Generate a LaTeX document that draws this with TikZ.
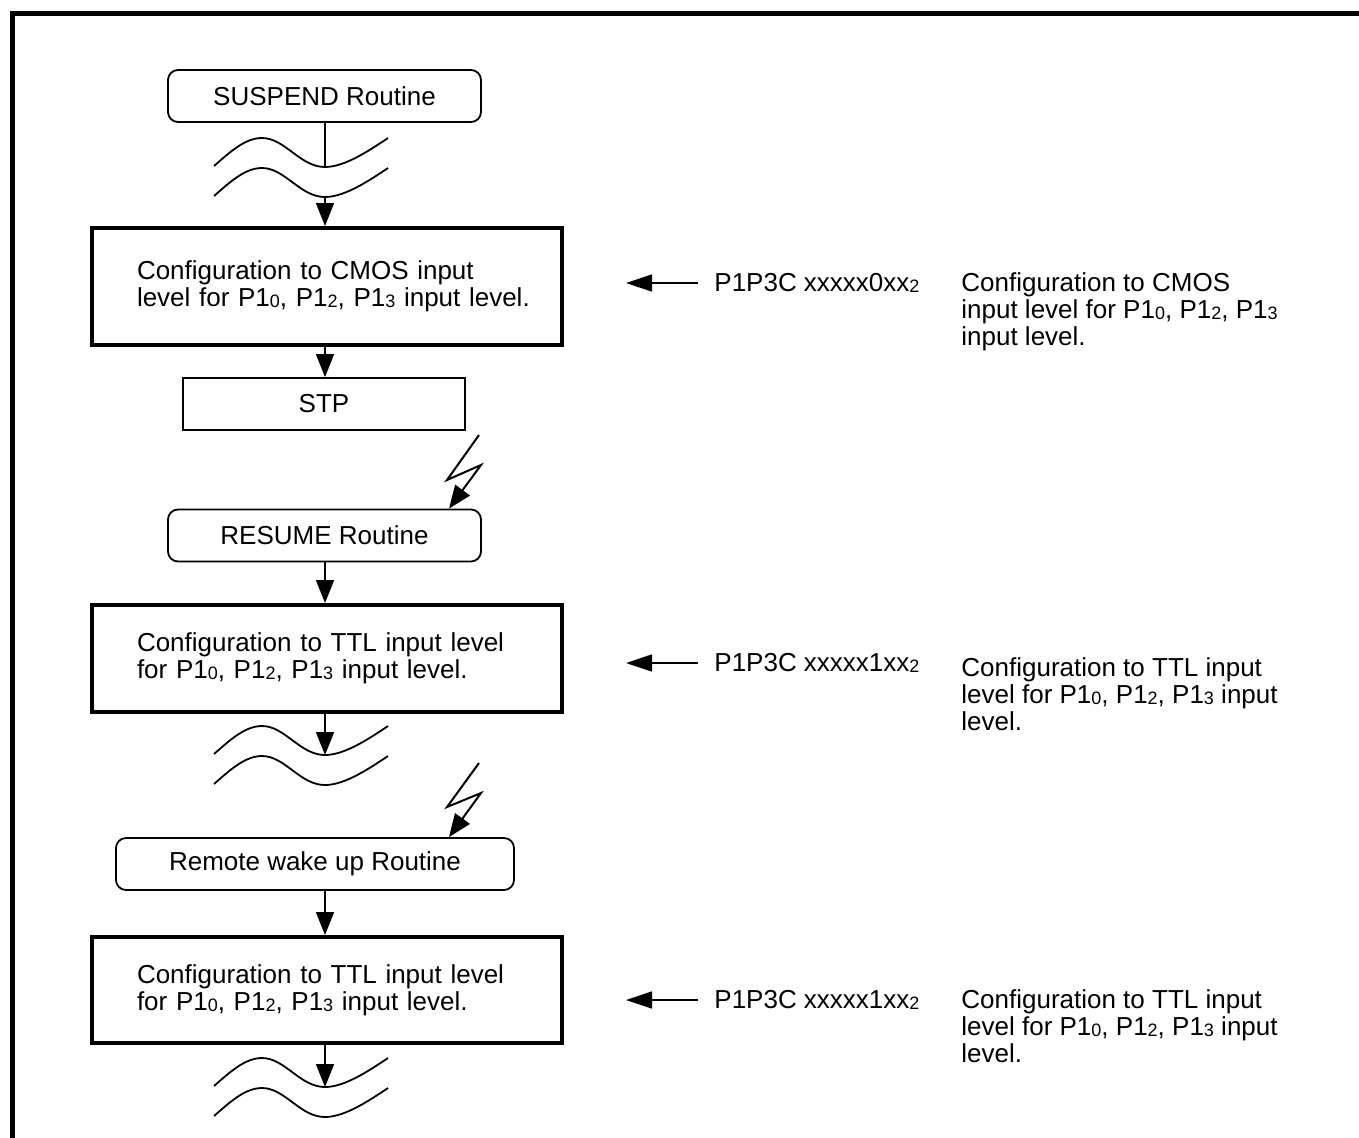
\documentclass[tikz,border=0pt]{standalone}
\usepackage{fontspec}
\setmainfont{Liberation Sans}
\usetikzlibrary{arrows.meta,positioning,calc}
\newcommand{\lsub}[1]{\raisebox{-0.4pt}{\fontsize{9}{9}\selectfont #1}}
\tikzset{
  rbox/.style={rectangle, rounded corners=5pt, draw, line width=0.9pt,
    font=\fontsize{13}{13.5}\selectfont, minimum height=26pt, inner sep=0pt},
  sbox/.style={rectangle, draw, line width=0.9pt,
    font=\fontsize{13}{13.5}\selectfont, minimum height=26pt, inner sep=0pt},
  cbox/.style={rectangle, draw, line width=2pt, minimum width=235pt,
    font=\fontsize{13}{13.5}\selectfont, align=left, text width=190pt,
    inner xsep=22.5pt, inner ysep=0pt},
  note/.style={font=\fontsize{13}{13.5}\selectfont, align=left, inner sep=0pt},
  farrow/.style={-{Triangle[length=11.5pt,width=9pt]}, line width=0.8pt},
  larrow/.style={-{Triangle[length=13pt,width=8.5pt]}, line width=0.8pt},
  bolt/.style={-{Triangle[length=11.5pt,width=9pt]}, line width=1pt, line join=miter},
  brk/.pic={
    \draw[line width=0.9pt] (-111,-1) .. controls (-95,-15) and (-80,-29) .. (-63,-29)
      .. controls (-40,-29) and (-25,0) .. (0,0)
      .. controls (20,0) and (45,-17) .. (63,-29);
    \draw[line width=0.9pt] (-111,29) .. controls (-95,15) and (-80,1) .. (-63,1)
      .. controls (-40,1) and (-25,30) .. (0,30)
      .. controls (20,30) and (45,13) .. (63,1);
  }
}

\begin{document}
\begin{tikzpicture}[x=0.5pt,y=-0.5pt]
  \useasboundingbox (0,0) rectangle (1359,1137);
  % frame
  \draw[line width=2.5pt] (12,1140) -- (12,13.5) -- (1362,13.5);

  % flow column
  \node[rbox,minimum width=156.5pt] (susp) at (324.5,96) {SUSPEND Routine};
  \pic at (325,167) {brk};
  \coordinate (w1a) at (325,167);
  \coordinate (w1b) at (325,197);
  \node[cbox,minimum height=58.5pt] (cmos) at (327,286.5)
    {\mbox{Configuration to CMOS input}\\
     \mbox{level for P1\lsub{0}, P1\lsub{2}, P1\lsub{3} input level.}};
  \node[sbox,minimum width=141pt] (stp) at (324,404) {STP};
  \node[rbox,minimum width=156.5pt] (resm) at (324.5,535.5) {RESUME Routine};
  \node[cbox,minimum height=53.5pt] (ttla) at (327,658.5)
    {\mbox{Configuration to TTL input level}\\
     \mbox{for P1\lsub{0}, P1\lsub{2}, P1\lsub{3} input level.}};
  \pic at (325,755) {brk};
  \coordinate (w2a) at (325,755);
  \node[rbox,minimum width=199pt] (wake) at (315,864) {Remote wake up Routine};
  \node[cbox,minimum height=53pt] (ttlb) at (327,990)
    {\mbox{Configuration to TTL input level}\\
     \mbox{for P1\lsub{0}, P1\lsub{2}, P1\lsub{3} input level.}};
  \pic at (325,1087) {brk};
  \coordinate (w3a) at (325,1087);

  \draw[line width=0.8pt] (susp.south -| w1a) -- (w1a);
  \draw[farrow] (w1b) -- (cmos.north -| w1b);
  \draw[farrow] (cmos.south -| w1b) -- (stp.north -| w1b);
  \draw[farrow] (resm.south -| w1b) -- (ttla.north -| w1b);
  \draw[farrow] (ttla.south -| w1b) -- (w2a);
  \draw[farrow] (wake.south -| w1b) -- (ttlb.north -| w1b);
  \draw[farrow] (ttlb.south -| w1b) -- (w3a);

  % interrupts
  \coordinate (ba) at (479,435);
  \coordinate (bb) at (447,480);
  \coordinate (bc) at (481,465);
  \coordinate (bt) at (449,510);
  \draw[bolt] (ba) -- (bb) -- (bc) -- (resm.north -| bt);
  \coordinate (ca) at (479,763);
  \coordinate (cb) at (447,807);
  \coordinate (cc) at (481,793);
  \coordinate (ct) at (449,838);
  \draw[bolt] (ca) -- (cb) -- (cc) -- (wake.north -| ct);

  % register notes
  \node[note,anchor=west] (rega) at (714,283) {P1P3C xxxxx0xx\lsub{2}};
  \node[note,anchor=west] (regb) at (714,663) {P1P3C xxxxx1xx\lsub{2}};
  \node[note,anchor=west] (regc) at (714,1000) {P1P3C xxxxx1xx\lsub{2}};
  \draw[larrow] ([xshift=-8pt]rega.west) -- ++(-72,0);
  \draw[larrow] ([xshift=-8pt]regb.west) -- ++(-72,0);
  \draw[larrow] ([xshift=-8pt]regc.west) -- ++(-72,0);
  \node[note,anchor=north west] (desa) at (961,272)
    {Configuration to CMOS\\input level for P1\lsub{0}, P1\lsub{2}, P1\lsub{3}\\input level.};
  \node[note,anchor=north west] (desb) at (961,657)
    {Configuration to TTL input\\level for P1\lsub{0}, P1\lsub{2}, P1\lsub{3} input\\level.};
  \node[note,anchor=north west] (desc) at (961,989)
    {Configuration to TTL input\\level for P1\lsub{0}, P1\lsub{2}, P1\lsub{3} input\\level.};
\end{tikzpicture}
\end{document}
